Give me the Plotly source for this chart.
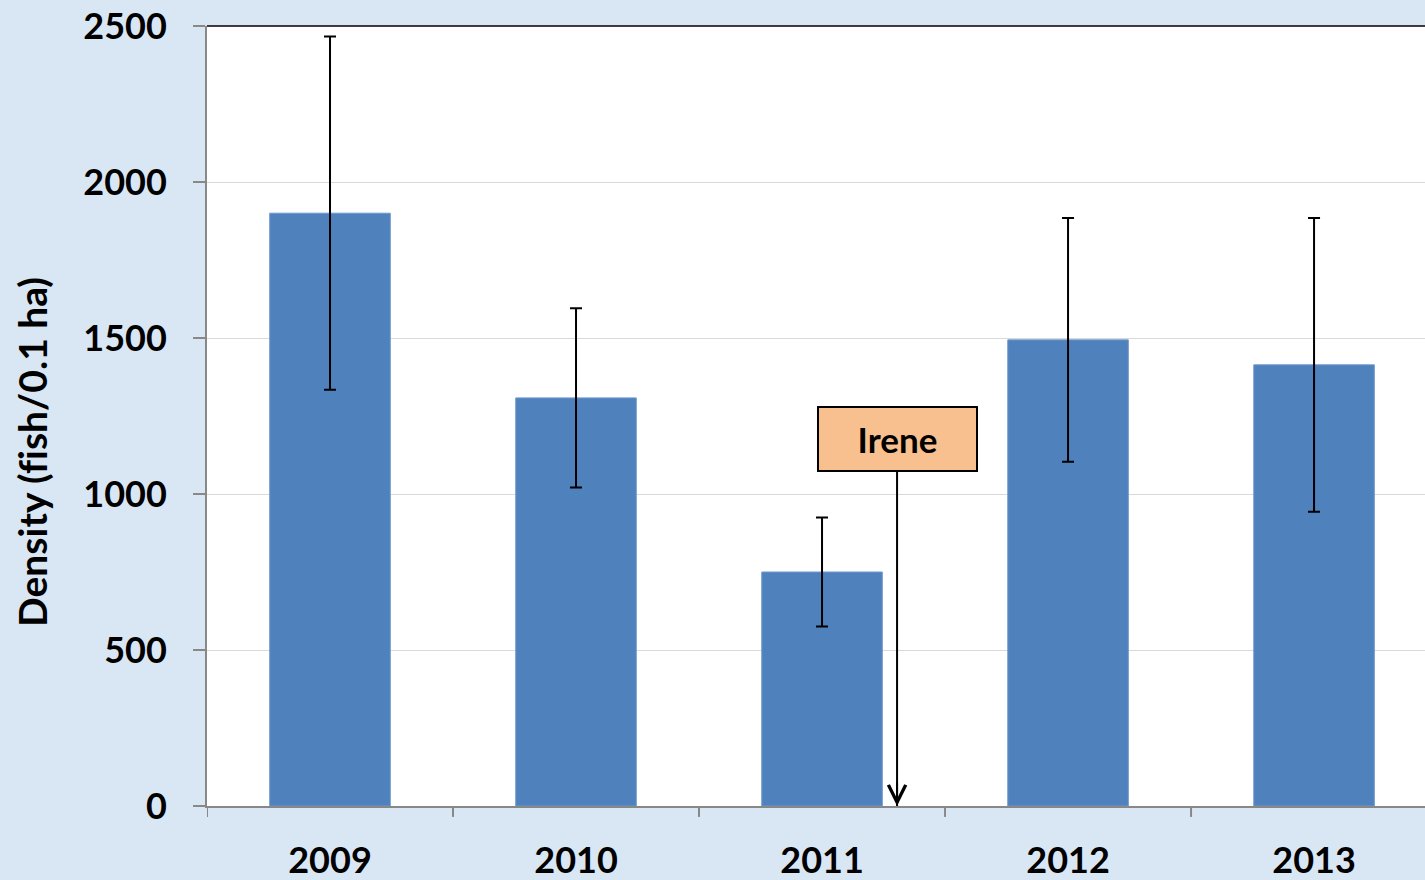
import plotly.graph_objects as go

years = ["2009", "2010", "2011", "2012", "2013"]
density = [1900, 1308, 750, 1494, 1414]
err = [566, 287, 175, 391, 471]
y_ticks = [0, 500, 1000, 1500, 2000, 2500]
event_label = "Irene"
event_x = 2.305
event_box_y = 1176
y_title = "Density (f\u200cish/0.1 ha)"

FONT = "Lato"
BG = "#D9E7F5"

fig = go.Figure()
fig.add_trace(go.Bar(
    x=list(range(len(years))), y=density,
    marker=dict(color="#4F81BD", line=dict(color="#6F98CC", width=1)),
    width=0.49,
    error_y=dict(type="data", array=err, visible=True, color="black", thickness=2, width=6),
))

fig.add_annotation(
    x=event_x, y=0, ax=event_x, ay=event_box_y, xref="x", yref="y", axref="x", ayref="y",
    showarrow=True, arrowhead=0, arrowwidth=2, arrowcolor="black", text="",
)
fig.add_annotation(
    x=event_x, y=0, ax=event_x, ay=80, xref="x", yref="y", axref="x", ayref="y",
    showarrow=True, arrowhead=5, arrowsize=1.7, arrowwidth=2, arrowcolor="black", text="",
)
fig.add_annotation(
    x=event_x, y=event_box_y, xref="x", yref="y", text=f"<b>{event_label}</b>", showarrow=False,
    font=dict(family=FONT, size=35, color="black"),
    bgcolor="#F9C08F", bordercolor="black", borderwidth=2,
    width=155, height=60, align="center",
)

# y-axis title
fig.add_annotation(
    xref="paper", yref="paper", x=0, y=0.454, xshift=-175, xanchor="center", yanchor="middle",
    text=f"<b>{y_title}</b>", textangle=-90, showarrow=False,
    font=dict(family=FONT, size=39, color="black"),
)

fig.add_shape(type="line", xref="paper", yref="paper", x0=0, x1=1, y0=1, y1=1,
              line=dict(color="black", width=1.5))

fig.update_layout(
    width=1425, height=880,
    margin=dict(l=207, r=0, t=26, b=74),
    paper_bgcolor=BG,
    plot_bgcolor="white",
    showlegend=False,
    font=dict(family=FONT, color="black"),
)
fig.update_xaxes(
    range=[-0.5, 4.451],
    tickvals=list(range(len(years))), ticktext=[f"<b>{y}</b>" for y in years],
    tickfont=dict(size=36, family=FONT),
    showline=True, linecolor="#888888", linewidth=2,
    showgrid=False, zeroline=False,
    ticks="outside", ticklen=0,
    ticklabelstandoff=22,
)
fig.update_yaxes(
    range=[0, 2500], tickvals=y_ticks, ticktext=[f"<b>{v}</b>" for v in y_ticks],
    tickfont=dict(size=36, family=FONT),
    showline=True, linecolor="#888888", linewidth=2,
    gridcolor="#D9D9D9", gridwidth=1, zeroline=False,
    ticks="outside", ticklen=12, tickcolor="#888888", tickwidth=2,
    ticklabelstandoff=19,
)
# category boundary ticks on x axis
for b in [-0.5, 0.5, 1.5, 2.5, 3.5]:
    fig.add_shape(type="line", xref="x", yref="paper", x0=b, x1=b, y0=0, y1=-0.014,
                  line=dict(color="#888888", width=2))

fig.write_html(
    "out.html",
    config={"displayModeBar": False},
    post_script=f"document.body.style.margin='0px';document.body.style.background='{BG}';",
)
